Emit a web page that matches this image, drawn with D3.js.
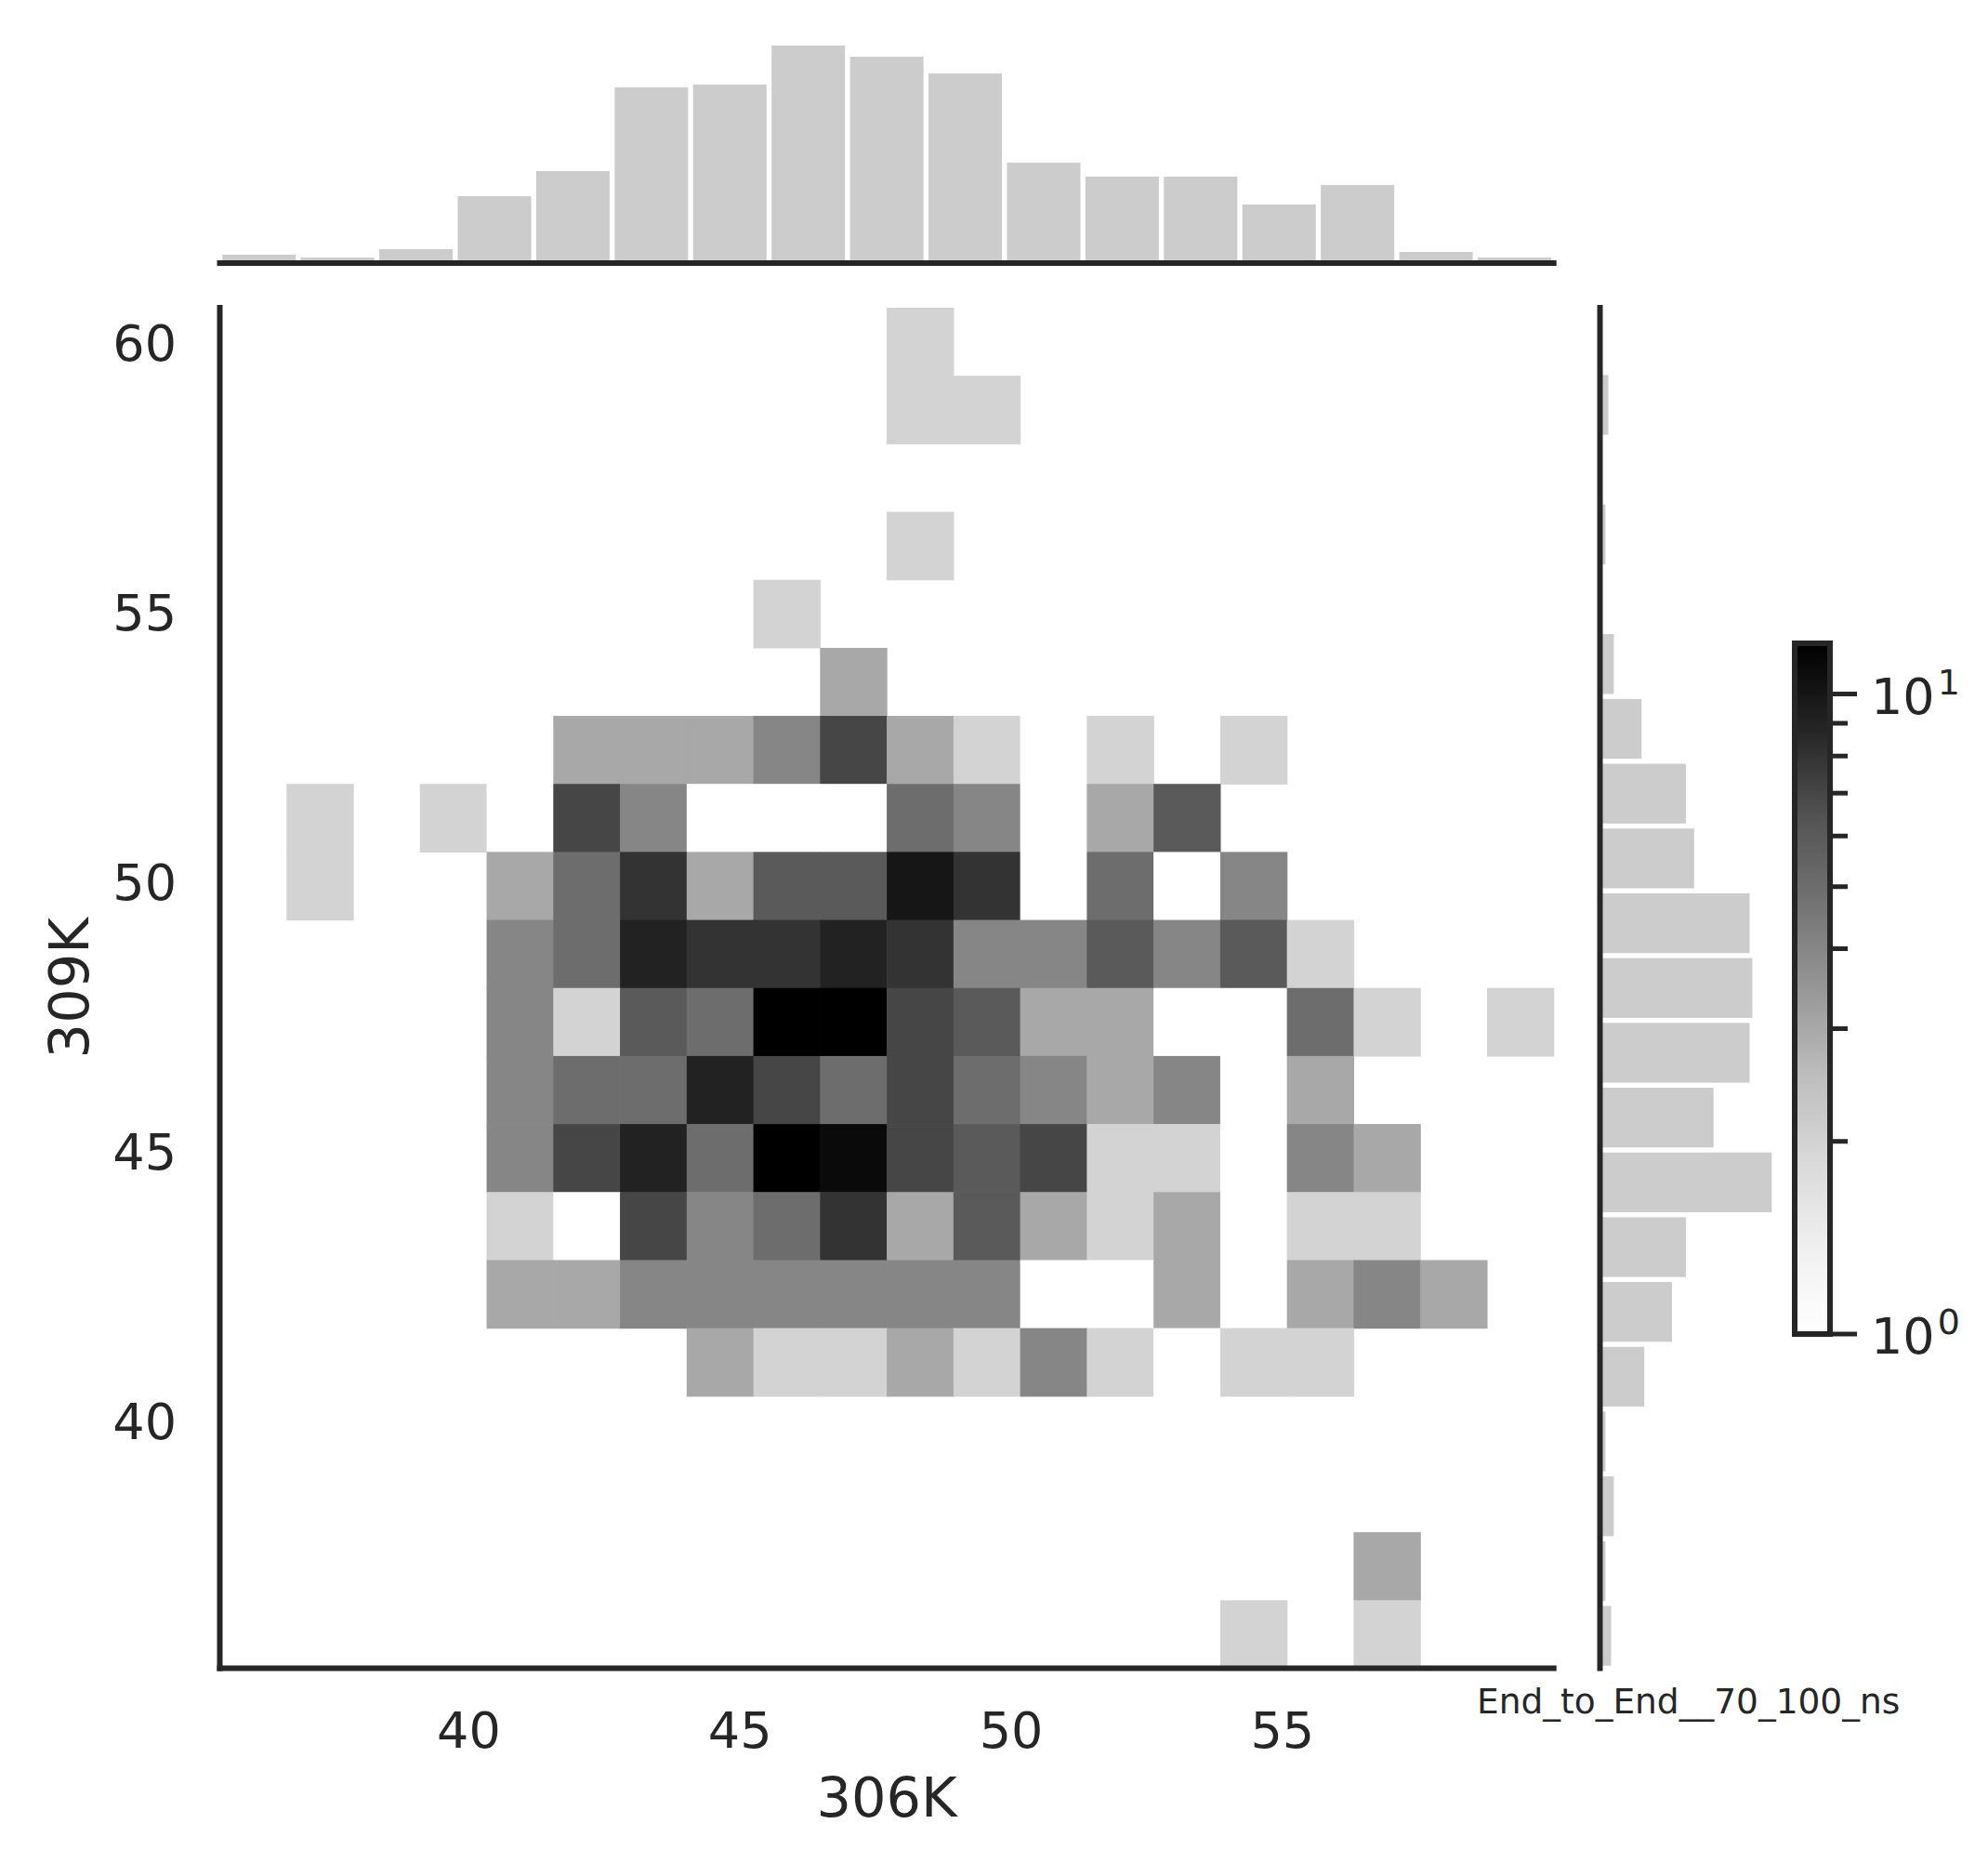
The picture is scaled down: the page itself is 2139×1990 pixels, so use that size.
<!DOCTYPE html>
<html>
  <head>
    <title></title>
    <meta charset="UTF-8" />
    <script src="https://cdn.jsdelivr.net/npm/d3@7"></script>
    <style>
      body { margin: 0; background: #fff; }
      svg { display: block; }
      text { font-family: "DejaVu Sans", sans-serif; fill: #262626; }
    </style>
  </head>
  <body>
    <svg></svg>
    <script>
      // 1. data
      const xLabel = "306K"
      const yLabel = "309K"
      const note = "End_to_End__70_100_ns"
      const xTicks = [40, 45, 50, 55]
      const yTicks = [40, 45, 50, 55, 60]
      const xDomain = [35.41, 60.0]
      const yDomain = [35.41, 60.65]

      // top marginal histogram (17 bins, left -> right)
      const topCounts = [3, 2, 5, 24, 33, 63, 64, 78, 74, 68, 36, 31, 31, 21, 28, 4, 2]
      // right marginal histogram (21 bins, bottom -> top)
      const rightCounts = [3, 1, 4, 1, 15, 25, 30, 61, 40, 53, 54, 53, 33, 30, 14, 4, 0, 1, 0, 2, 0]

      // 2d counts, 20 x 20, rows from top (high y) to bottom
      const grid = [
        [0, 0, 0, 0, 0, 0, 0, 0, 0, 0, 2, 0, 0, 0, 0, 0, 0, 0, 0, 0],
        [0, 0, 0, 0, 0, 0, 0, 0, 0, 0, 2, 2, 0, 0, 0, 0, 0, 0, 0, 0],
        [0, 0, 0, 0, 0, 0, 0, 0, 0, 0, 0, 0, 0, 0, 0, 0, 0, 0, 0, 0],
        [0, 0, 0, 0, 0, 0, 0, 0, 0, 0, 2, 0, 0, 0, 0, 0, 0, 0, 0, 0],
        [0, 0, 0, 0, 0, 0, 0, 0, 2, 0, 0, 0, 0, 0, 0, 0, 0, 0, 0, 0],
        [0, 0, 0, 0, 0, 0, 0, 0, 0, 3, 0, 0, 0, 0, 0, 0, 0, 0, 0, 0],
        [0, 0, 0, 0, 0, 3, 3, 3, 4, 7, 3, 2, 1, 2, 0, 2, 0, 0, 0, 0],
        [0, 2, 0, 2, 1, 7, 4, 1, 1, 1, 5, 4, 1, 3, 6, 0, 0, 0, 0, 0],
        [0, 2, 0, 0, 3, 5, 8, 3, 6, 6, 10, 8, 1, 5, 1, 4, 0, 0, 0, 0],
        [0, 0, 0, 0, 4, 5, 9, 8, 8, 9, 8, 4, 4, 6, 4, 6, 2, 0, 0, 0],
        [0, 0, 0, 0, 4, 2, 6, 5, 12, 12, 7, 6, 3, 3, 1, 1, 5, 2, 0, 2],
        [0, 0, 0, 0, 4, 5, 5, 9, 7, 5, 7, 5, 4, 3, 4, 1, 3, 0, 0, 0],
        [0, 0, 0, 0, 4, 7, 9, 5, 12, 11, 7, 6, 7, 2, 2, 1, 4, 3, 0, 0],
        [0, 0, 0, 0, 2, 1, 7, 4, 5, 8, 3, 6, 3, 2, 3, 1, 2, 2, 0, 0],
        [0, 0, 0, 0, 3, 3, 4, 4, 4, 4, 4, 4, 1, 1, 3, 1, 3, 4, 3, 0],
        [0, 0, 0, 0, 0, 0, 0, 3, 2, 2, 3, 2, 4, 2, 1, 2, 2, 0, 0, 0],
        [0, 0, 0, 0, 0, 0, 0, 0, 0, 0, 0, 0, 0, 0, 0, 0, 0, 0, 0, 0],
        [0, 0, 0, 0, 0, 0, 0, 0, 0, 0, 0, 0, 0, 0, 0, 0, 0, 0, 0, 0],
        [0, 0, 0, 0, 0, 0, 0, 0, 0, 0, 0, 0, 0, 0, 0, 0, 0, 3, 0, 0],
        [0, 0, 0, 0, 0, 0, 0, 0, 0, 0, 0, 0, 0, 0, 0, 2, 0, 2, 0, 0],
      ]
      const cbarMax = 12
      const cbarMinor = [2, 3, 4, 5, 6, 7, 8, 9]
      const cbarMajor = [{ v: 1, exp: "0" }, { v: 10, exp: "1" }]

      // 2. layout
      const width = 2139
      const height = 1990
      const ink = "#262626"
      const lw = 6
      const gap = 2.7 // white bar edge, each side
      const main = { left: 236.5, right: 1671.7, top: 331, bottom: 1794.5 }
      const topBase = 283
      const rightBase = 1721.5
      const cb = { x0: 1931, x1: 1969, y0: 692, y1: 1435 }

      const svg = d3
        .select("svg")
        .attr("width", width)
        .attr("height", height)
        .attr("viewBox", [0, 0, width, height])

      // 3. scales
      const x = d3.scaleLinear().domain(xDomain).range([main.left, main.right])
      const y = d3.scaleLinear().domain(yDomain).range([main.bottom, main.top])

      const greys = d3
        .scaleLinear()
        .domain(d3.range(9).map((i) => i / 8))
        .range(["#ffffff", "#f0f0f0", "#d9d9d9", "#bdbdbd", "#969696", "#737373", "#525252", "#252525", "#000000"])
        .clamp(true)
      const norm = d3.scaleLog().domain([1, cbarMax]).range([0, 1]).clamp(true)
      const color = (v) => greys(norm(v))

      // 4. heatmap cells
      const nx = grid[0].length
      const ny = grid.length
      const xEdges = d3.range(nx + 1).map((i) => xDomain[0] + (i * (xDomain[1] - xDomain[0])) / nx)
      const yEdges = d3.range(ny + 1).map((i) => yDomain[1] - (i * (yDomain[1] - yDomain[0])) / ny)
      const cells = []
      grid.forEach((row, r) =>
        row.forEach((v, c) => {
          if (v > 0) cells.push({ r, c, v })
        })
      )

      svg
        .append("g")
        .selectAll("rect")
        .data(cells)
        .join("rect")
        .attr("x", (d) => x(xEdges[d.c]))
        .attr("y", (d) => y(yEdges[d.r]))
        .attr("width", (d) => x(xEdges[d.c + 1]) - x(xEdges[d.c]) + 0.6)
        .attr("height", (d) => y(yEdges[d.r + 1]) - y(yEdges[d.r]) + 0.6)
        .attr("fill", (d) => color(d.v))

      // 5. top marginal histogram
      const topMax = d3.max(topCounts)
      const yTop = d3.scaleLinear().domain([0, topMax * 1.05]).range([topBase, topBase - topMax * 1.05 * 3])
      const tEdges = d3.range(topCounts.length + 1).map((i) => xDomain[0] + (i * (xDomain[1] - xDomain[0])) / topCounts.length)

      svg
        .append("g")
        .attr("fill", "#cccccc")
        .selectAll("rect")
        .data(topCounts)
        .join("rect")
        .attr("x", (d, i) => x(tEdges[i]) + gap)
        .attr("width", (d, i) => x(tEdges[i + 1]) - x(tEdges[i]) - 2 * gap)
        .attr("y", (d) => yTop(d))
        .attr("height", (d) => topBase - yTop(d))

      // 6. right marginal histogram
      const rightMax = d3.max(rightCounts)
      const xRight = d3.scaleLinear().domain([0, rightMax * 1.05]).range([rightBase, rightBase + rightMax * 1.05 * 2.98])
      const rEdges = d3.range(rightCounts.length + 1).map((i) => yDomain[0] + (i * (yDomain[1] - yDomain[0])) / rightCounts.length)

      svg
        .append("g")
        .attr("fill", "#cccccc")
        .selectAll("rect")
        .data(rightCounts)
        .join("rect")
        .attr("x", rightBase)
        .attr("y", (d, i) => y(rEdges[i + 1]) + gap)
        .attr("height", (d, i) => y(rEdges[i]) - y(rEdges[i + 1]) - 2 * gap)
        .attr("width", (d) => xRight(d) - rightBase + lw / 2)
        .attr("display", (d) => (d > 0 ? null : "none"))

      // 7. spines
      const spines = svg
        .append("g")
        .attr("stroke", ink)
        .attr("stroke-width", lw)
        .attr("stroke-linecap", "square")
      spines.append("line").attr("x1", main.left).attr("x2", main.left).attr("y1", main.top).attr("y2", main.bottom)
      spines.append("line").attr("x1", main.left).attr("x2", main.right).attr("y1", main.bottom).attr("y2", main.bottom)
      spines.append("line").attr("x1", main.left).attr("x2", main.right).attr("y1", topBase).attr("y2", topBase)
      spines.append("line").attr("x1", rightBase).attr("x2", rightBase).attr("y1", main.top).attr("y2", main.bottom)

      // 8. tick labels and axis titles
      svg
        .append("g")
        .attr("font-size", 54)
        .attr("text-anchor", "middle")
        .selectAll("text")
        .data(xTicks)
        .join("text")
        .attr("x", (d) => x(d))
        .attr("y", 1880)
        .text((d) => d)

      svg
        .append("g")
        .attr("font-size", 54)
        .attr("text-anchor", "end")
        .selectAll("text")
        .data(yTicks)
        .join("text")
        .attr("x", 190)
        .attr("y", (d) => y(d))
        .attr("dy", "0.36em")
        .text((d) => d)

      svg
        .append("text")
        .attr("x", (main.left + main.right) / 2)
        .attr("y", 1954)
        .attr("font-size", 59)
        .attr("text-anchor", "middle")
        .text(xLabel)

      svg
        .append("text")
        .attr("transform", `translate(95,${(main.top + main.bottom) / 2}) rotate(-90)`)
        .attr("font-size", 59)
        .attr("text-anchor", "middle")
        .text(yLabel)

      svg
        .append("text")
        .attr("x", 1589)
        .attr("y", 1843)
        .attr("font-size", 37.5)
        .text(note)

      // 9. colorbar
      const cy = d3.scaleLog().domain([1, cbarMax]).range([cb.y1, cb.y0])
      const grad = svg
        .append("defs")
        .append("linearGradient")
        .attr("id", "cbar")
        .attr("x1", 0)
        .attr("x2", 0)
        .attr("y1", 1)
        .attr("y2", 0)
      grad
        .selectAll("stop")
        .data(d3.range(41).map((i) => i / 40))
        .join("stop")
        .attr("offset", (d) => d)
        .attr("stop-color", (d) => greys(d))

      svg
        .append("rect")
        .attr("x", cb.x0)
        .attr("y", cb.y0)
        .attr("width", cb.x1 - cb.x0)
        .attr("height", cb.y1 - cb.y0)
        .attr("fill", "url(#cbar)")
        .attr("stroke", ink)
        .attr("stroke-width", lw)

      svg
        .append("g")
        .attr("stroke", ink)
        .attr("stroke-width", 5)
        .selectAll("line")
        .data(cbarMinor)
        .join("line")
        .attr("x1", cb.x1)
        .attr("x2", cb.x1 + 19)
        .attr("y1", (d) => cy(d))
        .attr("y2", (d) => cy(d))

      const major = svg.append("g").selectAll("g").data(cbarMajor).join("g")
      major
        .append("line")
        .attr("stroke", ink)
        .attr("stroke-width", 5)
        .attr("x1", cb.x1)
        .attr("x2", cb.x1 + 29)
        .attr("y1", (d) => cy(d.v))
        .attr("y2", (d) => cy(d.v))
      const lab = major
        .append("text")
        .attr("x", 2013)
        .attr("y", (d) => cy(d.v) + 21)
        .attr("font-size", 54)
      lab.append("tspan").text("10")
      lab
        .append("tspan")
        .attr("font-size", 38)
        .attr("dx", 3)
        .attr("dy", -21)
        .text((d) => d.exp)
    </script>
  </body>
</html>
